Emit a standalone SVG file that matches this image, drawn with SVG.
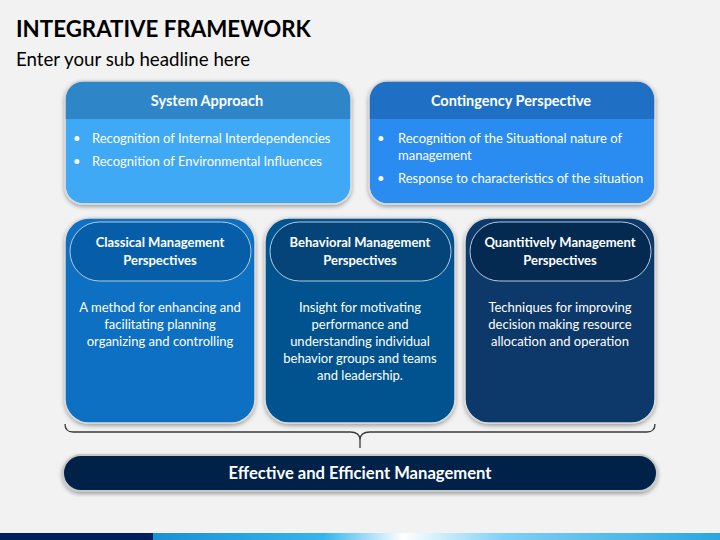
<svg xmlns="http://www.w3.org/2000/svg" width="720" height="540" viewBox="0 0 720 540">
<style>
text{font-family:Lato,"Open Sans","Liberation Sans",sans-serif;fill:#fff}
.title{font-size:22.3px;font-weight:bold;fill:#000}
.sub{font-size:18.7px;fill:#000}
.hd{font-size:14.5px;font-weight:bold;text-anchor:middle}
.bl{font-size:13px}
.ph{font-size:13px;font-weight:bold;text-anchor:middle}
.bd{font-size:13px;text-anchor:middle}
.box{stroke:#d9d9d9;stroke-width:1.5}
.pill{stroke:#b7c9dc;stroke-width:1}
</style>
<defs>
<filter id="sh" x="-10%" y="-10%" width="120%" height="125%">
<feDropShadow dx="0" dy="2" stdDeviation="2" flood-color="#000" flood-opacity="0.35"/>
</filter>
<clipPath id="c1"><rect x="65" y="81" width="286" height="123" rx="18"/></clipPath>
<clipPath id="c2"><rect x="369" y="81" width="286" height="123" rx="18"/></clipPath>
<linearGradient id="strip" x1="0" y1="0" x2="1" y2="0">
<stop offset="0" stop-color="#0070c0"/>
<stop offset="0.45" stop-color="#35b5ee"/>
<stop offset="0.56" stop-color="#ffffff"/>
<stop offset="0.7" stop-color="#7fd0f5"/>
<stop offset="1" stop-color="#2aa6e0"/>
</linearGradient>
</defs>
<rect x="0" y="0" width="720" height="540" fill="#f2f2f2"/>
<text class="title" x="16" y="37">INTEGRATIVE FRAMEWORK</text>
<text class="sub" x="16" y="66">Enter your sub headline here</text>

<g id="system-approach">
<rect x="65" y="81" width="286" height="123" rx="18" fill="#3fa9f5" class="box" filter="url(#sh)"/>
<rect x="65" y="81" width="286" height="38" fill="#2e86c9" clip-path="url(#c1)"/>
<rect x="65" y="81" width="286" height="123" rx="18" fill="none" class="box"/>
<text class="hd" x="207" y="106">System Approach</text>
<text class="bl" x="73" y="143">•</text>
<text class="bl" x="92" y="143">Recognition of Internal Interdependencies</text>
<text class="bl" x="73" y="166">•</text>
<text class="bl" x="92" y="166">Recognition of Environmental Influences</text>
</g>

<g id="contingency-perspective">
<rect x="369" y="81" width="286" height="123" rx="18" fill="#2b8cf0" class="box" filter="url(#sh)"/>
<rect x="369" y="81" width="286" height="38" fill="#1f70c4" clip-path="url(#c2)"/>
<rect x="369" y="81" width="286" height="123" rx="18" fill="none" class="box"/>
<text class="hd" x="511" y="106">Contingency Perspective</text>
<text class="bl" x="377" y="143">•</text>
<text class="bl" x="398" y="143">Recognition of the Situational nature of</text>
<text class="bl" x="398" y="160">management</text>
<text class="bl" x="377" y="183">•</text>
<text class="bl" x="398" y="183">Response to characteristics of the situation</text>
</g>

<g id="classical">
<rect x="65" y="218" width="190" height="205" rx="24" fill="#0a70c2" class="box" filter="url(#sh)"/>
<rect x="70" y="222" width="181" height="59" rx="29.5" fill="#075ea8" class="pill"/>
<text class="ph" x="160" y="247">Classical Management</text>
<text class="ph" x="160" y="265">Perspectives</text>
<text class="bd" x="160" y="312">A method for enhancing and</text>
<text class="bd" x="160" y="329">facilitating planning</text>
<text class="bd" x="160" y="346">organizing and controlling</text>
</g>

<g id="behavioral">
<rect x="265" y="218" width="190" height="205" rx="24" fill="#06538f" class="box" filter="url(#sh)"/>
<rect x="270" y="222" width="181" height="59" rx="29.5" fill="#054478" class="pill"/>
<text class="ph" x="360" y="247">Behavioral Management</text>
<text class="ph" x="360" y="265">Perspectives</text>
<text class="bd" x="360" y="312">Insight for motivating</text>
<text class="bd" x="360" y="329">performance and</text>
<text class="bd" x="360" y="346">understanding individual</text>
<text class="bd" x="360" y="363">behavior groups and teams</text>
<text class="bd" x="360" y="380">and leadership.</text>
</g>

<g id="quantitative">
<rect x="465" y="218" width="190" height="205" rx="24" fill="#07386a" class="box" filter="url(#sh)"/>
<rect x="470" y="222" width="181" height="59" rx="29.5" fill="#042a52" class="pill"/>
<text class="ph" x="560" y="247">Quantitively Management</text>
<text class="ph" x="560" y="265">Perspectives</text>
<text class="bd" x="560" y="312">Techniques for improving</text>
<text class="bd" x="560" y="329">decision making resource</text>
<text class="bd" x="560" y="346">allocation and operation</text>
</g>

<g id="connectors">
<path d="M65,424 Q65,432 73,432 L350,432 Q360,432 360,440 L360,448 M360,440 Q360,432 370,432 L647,432 Q655,432 655,424" fill="none" stroke="#3a3a3a" stroke-width="1.3"/>
</g>

<g id="effective-management">
<rect x="63" y="455" width="594" height="36" rx="18" fill="#012148" stroke="#c8c8c8" stroke-width="2" filter="url(#sh)"/>
<text x="360" y="479" style="font-size:16.6px;font-weight:bold;text-anchor:middle">Effective and Efficient Management</text>
</g>

<rect x="0" y="533" width="720" height="7" fill="url(#strip)"/>
<rect x="0" y="533" width="153" height="7" fill="#001f5e"/>
</svg>
